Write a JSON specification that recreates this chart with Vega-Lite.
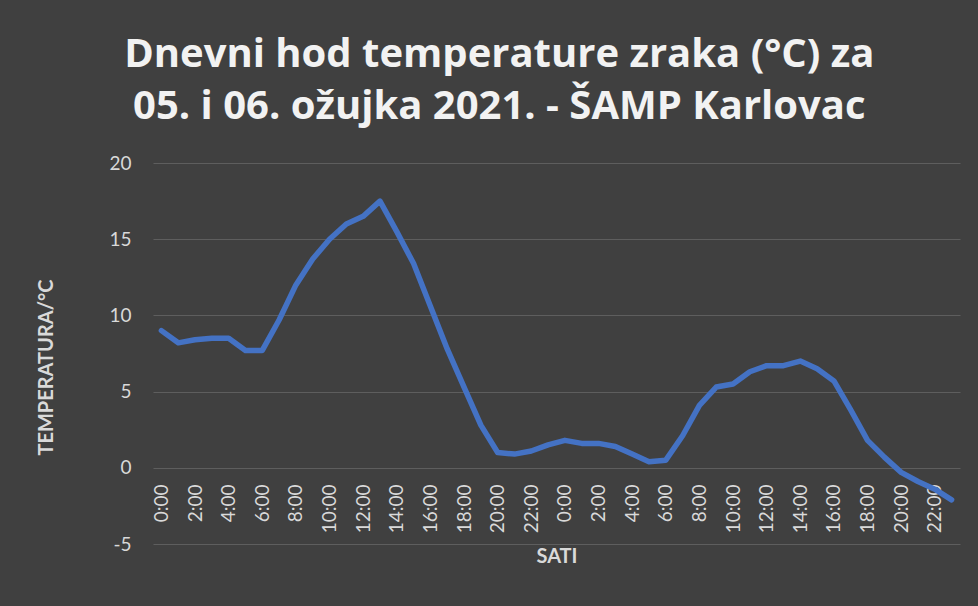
{
  "$schema": "https://vega.github.io/schema/vega-lite/v6.json",
  "width": 807,
  "height": 381,
  "autosize": {"type": "none"},
  "padding": {"left": 153, "top": 163, "right": 18, "bottom": 62},
  "background": "#404040",
  "title": {
    "text": ["Dnevni hod temperature zraka (°C) za", "05. i 06. ožujka 2021. - ŠAMP Karlovac"],
    "font": "Open Sans",
    "fontSize": 40,
    "fontWeight": "bold",
    "color": "#f2f2f2",
    "lineHeight": 52,
    "anchor": "middle",
    "frame": "bounds",
    "baseline": "alphabetic",
    "offset": -5
  },
  "config": {
    "view": {"stroke": null},
    "axis": {
      "labelFont": "Lato",
      "titleFont": "Lato",
      "labelColor": "#d9d9d9",
      "titleColor": "#d9d9d9",
      "gridColor": "#5e5e5e",
      "gridWidth": 1.2,
      "domain": false,
      "ticks": false
    }
  },
  "data": {
    "values": [
      {"t": "05. 0:00", "temp": 9.0},
      {"t": "05. 1:00", "temp": 8.2},
      {"t": "05. 2:00", "temp": 8.4},
      {"t": "05. 3:00", "temp": 8.5},
      {"t": "05. 4:00", "temp": 8.5},
      {"t": "05. 5:00", "temp": 7.7},
      {"t": "05. 6:00", "temp": 7.7},
      {"t": "05. 7:00", "temp": 9.7},
      {"t": "05. 8:00", "temp": 12.0},
      {"t": "05. 9:00", "temp": 13.7},
      {"t": "05. 10:00", "temp": 15.0},
      {"t": "05. 11:00", "temp": 16.0},
      {"t": "05. 12:00", "temp": 16.5},
      {"t": "05. 13:00", "temp": 17.5},
      {"t": "05. 14:00", "temp": 15.5},
      {"t": "05. 15:00", "temp": 13.4},
      {"t": "05. 16:00", "temp": 10.6},
      {"t": "05. 17:00", "temp": 7.8},
      {"t": "05. 18:00", "temp": 5.3},
      {"t": "05. 19:00", "temp": 2.8},
      {"t": "05. 20:00", "temp": 1.0},
      {"t": "05. 21:00", "temp": 0.9},
      {"t": "05. 22:00", "temp": 1.1},
      {"t": "05. 23:00", "temp": 1.5},
      {"t": "06. 0:00", "temp": 1.8},
      {"t": "06. 1:00", "temp": 1.6},
      {"t": "06. 2:00", "temp": 1.6},
      {"t": "06. 3:00", "temp": 1.4},
      {"t": "06. 4:00", "temp": 0.9},
      {"t": "06. 5:00", "temp": 0.4},
      {"t": "06. 6:00", "temp": 0.5},
      {"t": "06. 7:00", "temp": 2.1},
      {"t": "06. 8:00", "temp": 4.1},
      {"t": "06. 9:00", "temp": 5.3},
      {"t": "06. 10:00", "temp": 5.5},
      {"t": "06. 11:00", "temp": 6.3},
      {"t": "06. 12:00", "temp": 6.7},
      {"t": "06. 13:00", "temp": 6.7},
      {"t": "06. 14:00", "temp": 7.0},
      {"t": "06. 15:00", "temp": 6.5},
      {"t": "06. 16:00", "temp": 5.7},
      {"t": "06. 17:00", "temp": 3.8},
      {"t": "06. 18:00", "temp": 1.8},
      {"t": "06. 19:00", "temp": 0.7},
      {"t": "06. 20:00", "temp": -0.3},
      {"t": "06. 21:00", "temp": -0.9},
      {"t": "06. 22:00", "temp": -1.4},
      {"t": "06. 23:00", "temp": -2.1}
    ]
  },
  "mark": {
    "type": "line",
    "color": "#4472c4",
    "strokeWidth": 5.5,
    "strokeCap": "round",
    "strokeJoin": "round"
  },
  "encoding": {
    "x": {
      "field": "t",
      "type": "ordinal",
      "sort": null,
      "scale": {"type": "point", "padding": 0.5},
      "axis": {
        "title": "SATI",
        "titleFontSize": 20,
        "titleFontWeight": "bold",
        "titlePadding": 14,
        "labelAngle": -90,
        "labelFontSize": 19,
        "labelPadding": 16,
        "labelExpr": "toNumber(split(split(datum.value, ' ')[1], ':')[0]) % 2 == 0 ? split(datum.value, ' ')[1] : ''",
        "offset": -76,
        "grid": false
      }
    },
    "y": {
      "field": "temp",
      "type": "quantitative",
      "scale": {"domain": [-5, 20], "nice": false, "zero": false},
      "axis": {
        "title": "TEMPERATURA/°C",
        "titleFontSize": 20,
        "titleFontWeight": "bold",
        "titlePadding": 52,
        "titleY": 204,
        "labelFontSize": 19,
        "labelPadding": 22,
        "labelExpr": "replace(datum.label, '−', '-')",
        "values": [-5, 0, 5, 10, 15, 20]
      }
    }
  }
}
